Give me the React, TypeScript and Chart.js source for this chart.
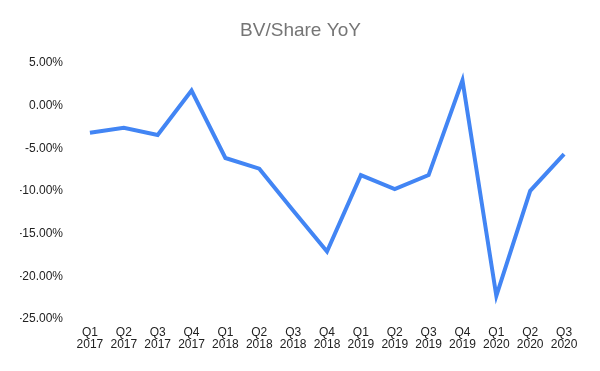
import React, { useEffect, useRef } from "react";
import { Chart, registerables } from "chart.js";

Chart.register(...registerables);

const quarters = ["Q1", "Q2", "Q3", "Q4", "Q1", "Q2", "Q3", "Q4", "Q1", "Q2", "Q3", "Q4", "Q1", "Q2", "Q3"];
const years = ["2017", "2017", "2017", "2017", "2018", "2018", "2018", "2018", "2019", "2019", "2019", "2019", "2020", "2020", "2020"];
const bvShareYoY = [-3.2, -2.6, -3.45, 1.75, -6.15, -7.4, -12.3, -17.1, -8.15, -9.8, -8.15, 2.95, -22.3, -10.0, -5.7];

export default function App() {
  const ref = useRef<HTMLCanvasElement>(null);
  useEffect(() => {
    if (!ref.current) return;
    const labels = quarters.map((q, i) => [q, years[i]]);
    const font = "Liberation Sans, Arial, sans-serif";
    const chart = new Chart(ref.current, {
      type: "line",
      data: {
        labels,
        datasets: [
          {
            data: bvShareYoY,
            borderColor: "#4285F4",
            backgroundColor: "#4285F4",
            borderWidth: 4,
            pointRadius: 0,
            tension: 0,
            borderJoinStyle: "miter",
          },
        ],
      },
      options: {
        animation: false,
        responsive: false,
        maintainAspectRatio: false,
        layout: { padding: { top: 10, left: 20, right: 19, bottom: 10 } },
        plugins: {
          legend: { display: false },
          tooltip: { enabled: false },
          title: {
            display: true,
            text: "BV/Share YoY",
            color: "#757575",
            font: { family: font, size: 19, weight: "normal" },
            padding: { top: 9, bottom: 21 },
          },
        },
        scales: {
          x: {
            offset: true,
            grid: { display: false, drawTicks: false },
            border: { display: false },
            afterFit: (s: any) => {
              s.height = 42;
            },
            ticks: {
              color: "#222",
              font: { family: font, size: 12, lineHeight: 1.05 },
              maxRotation: 0,
              autoSkip: false,
              padding: 7,
            },
          },
          y: {
            min: -25,
            max: 5,
            grid: { display: false, drawTicks: false },
            border: { display: false },
            afterFit: (s: any) => {
              s.width = 53;
            },
            ticks: {
              stepSize: 5,
              color: "#222",
              font: { family: font, size: 12 },
              padding: 10,
              callback: (v: any) => Number(v).toFixed(2) + "%",
            },
          },
        },
      },
    });
    return () => chart.destroy();
  }, []);
  return (
    <div style={{ position: "fixed", left: 0, top: 0, width: 600, height: 371, background: "#fff" }}>
      <canvas ref={ref} width={600} height={371} style={{ width: 600, height: 371 }} />
    </div>
  );
}
